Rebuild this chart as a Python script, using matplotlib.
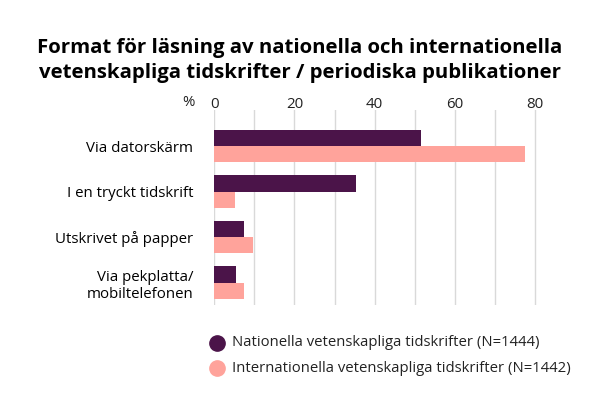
import matplotlib
matplotlib.use("Agg")
import matplotlib.pyplot as plt
import numpy as np

plt.rcParams['font.family'] = ['Open Sans', 'DejaVu Sans']

categories = ["Via datorskärm", "I en tryckt tidskrift", "Utskrivet på papper",
              "Via pekplatta/\nmobiltelefonen"]
nationella = [51.5, 35.3, 7.4, 5.4]
internationella = [77.5, 5.2, 9.7, 7.4]
series_labels = ["Nationella vetenskapliga tidskrifter (N=1444)",
                 "Internationella vetenskapliga tidskrifter (N=1442)"]
colors = ["#4b1449", "#ffa39b"]

fig = plt.figure(figsize=(6, 3.99), dpi=100)
ax = fig.add_axes([0.357, 0.236, 0.5383, 0.488])

y = np.arange(len(categories))
h = 0.36
ax.barh(y - h / 2, nationella, height=h, color=colors[0], zorder=3)
ax.barh(y + h / 2, internationella, height=h, color=colors[1], zorder=3)

ax.set_xlim(0, 80.5)
ax.set_ylim(3.49, -0.79)
ax.set_xticks(np.arange(0, 81, 20))
ax.set_xticks(np.arange(10, 80, 20), minor=True)
ax.xaxis.tick_top()
ax.tick_params(axis='x', which='both', length=0, labelsize=10.8, pad=-1, colors='#222222')
ax.grid(axis='x', which='both', color='#d9d9d9', linewidth=1, zorder=0)
ax.set_yticks(y)
ax.set_yticklabels(categories, fontsize=10.8)
ax.tick_params(axis='y', length=0, pad=15)
for lab in ax.get_yticklabels():
    lab.set_horizontalalignment('right')
for s in ax.spines.values():
    s.set_visible(False)

# "%" label left of the top tick labels
fig.text(195 / 600, 1 - 102 / 399, "%", ha='right', va='center', fontsize=10.8,
         color='#222222')

fig.text(0.5, 1 - 48 / 399, "Format för läsning av nationella och internationella",
         ha='center', va='center', fontsize=14.7, fontweight='bold')
fig.text(0.5, 1 - 73 / 399, "vetenskapliga tidskrifter / periodiska publikationer",
         ha='center', va='center', fontsize=14.7, fontweight='bold')

# legend with round markers
for i, (lab, c) in enumerate(zip(series_labels, colors)):
    yy = 1 - (343 + i * 25) / 399
    fig.lines.append(plt.Line2D([217 / 600], [yy], marker='o', markersize=11,
                                color=c, transform=fig.transFigure, linestyle='none'))
    fig.text(232 / 600, yy, lab, ha='left', va='center', fontsize=10.7, color='#222222')

fig.savefig("out.png", dpi=100)
